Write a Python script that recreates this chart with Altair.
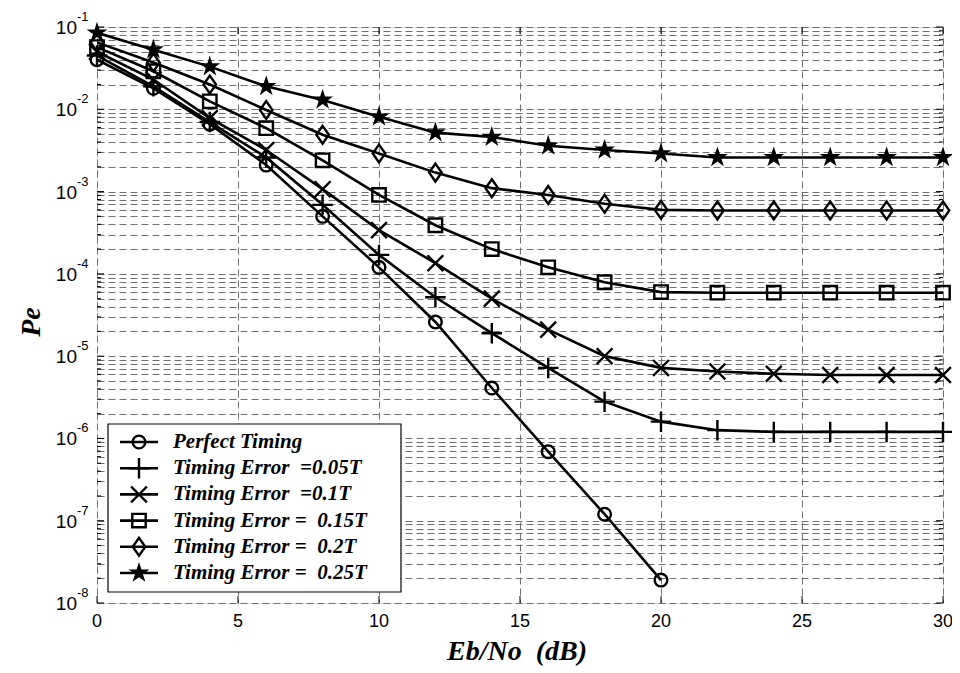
import altair as alt
import pandas as pd
import math

# ---------------- data ----------------
ebno = [0, 2, 4, 6, 8, 10, 12, 14, 16, 18, 20, 22, 24, 26, 28, 30]

perfect = [0.04, 0.018, 0.0066, 0.0021, 5.0e-4, 1.2e-4, 2.6e-5, 4.1e-6, 6.9e-7, 1.2e-7, 1.9e-8]
err_005 = [0.045, 0.019, 0.007, 0.0026, 6.9e-4, 1.7e-4, 5.2e-5, 1.9e-5, 7.2e-6, 2.8e-6,
           1.6e-6, 1.26e-6, 1.2e-6, 1.2e-6, 1.2e-6, 1.2e-6]
err_010 = [0.05, 0.023, 0.0078, 3.2e-3, 1.07e-3, 3.4e-4, 1.35e-4, 5.0e-5, 2.1e-5, 1.0e-5,
           7.2e-6, 6.5e-6, 6.1e-6, 5.9e-6, 5.9e-6, 5.9e-6]
err_015 = [0.057, 0.029, 0.0125, 5.9e-3, 2.4e-3, 9.1e-4, 3.9e-4, 2.0e-4, 1.2e-4, 7.9e-5,
           6.0e-5, 5.9e-5, 5.9e-5, 5.9e-5, 5.9e-5, 5.9e-5]
err_020 = [0.065, 0.037, 0.02, 0.0098, 4.9e-3, 2.9e-3, 1.7e-3, 1.1e-3, 9.1e-4, 7.1e-4,
           6.0e-4, 5.9e-4, 5.9e-4, 5.9e-4, 5.9e-4, 5.9e-4]
err_025 = [0.085, 0.053, 0.033, 0.019, 0.013, 8.1e-3, 5.2e-3, 4.6e-3, 3.6e-3, 3.2e-3,
           2.9e-3, 2.6e-3, 2.6e-3, 2.6e-3, 2.6e-3, 2.6e-3]

NB = "\u00a0"
series_names = ["Perfect Timing",
                "Timing Error" + NB + " =0.05T",
                "Timing Error" + NB + " =0.1T",
                "Timing Error =" + NB + " 0.15T",
                "Timing Error =" + NB + " 0.2T",
                "Timing Error =" + NB + " 0.25T"]
series_values = [perfect, err_005, err_010, err_015, err_020, err_025]

x_ticks = [0, 5, 10, 15, 20, 25, 30]
decades = [-8, -7, -6, -5, -4, -3, -2, -1]

# ---------------- styles ----------------
PLUS = "M-1,0L1,0M0,-1L0,1"
XMARK = "M-1,-1L1,1M-1,1L1,-1"
DIAMOND = "M0,-1L0.7,0L0,1L-0.7,0Z"
STAR = ("M0,-1L0.2245,-0.309L0.951,-0.309L0.363,0.118L0.588,0.809L0,0.382"
        "L-0.588,0.809L-0.363,0.118L-0.951,-0.309L-0.2245,-0.309Z")
marker_styles = [
    dict(shape="circle", size=160, filled=False),
    dict(shape=PLUS, size=420, filled=False),
    dict(shape=XMARK, size=250, filled=False),
    dict(shape="square", size=180, filled=False),
    dict(shape=DIAMOND, size=320, filled=False),
    dict(shape=STAR, size=480, filled=True),
]

W, H = 846, 576
SERIF = "Liberation Serif"
SANS = "Liberation Sans"
GRID = "#707070"

rows = []
for name, vals in zip(series_names, series_values):
    for x, v in zip(ebno, vals):
        rows.append({"eb": x, "pe": v, "series": name})
df = pd.DataFrame(rows)

grid_vals = []
for k in decades[:-1]:
    for m in range(1, 10):
        grid_vals.append(m * 10.0 ** k)
grid_vals.append(0.1)

xscale = alt.Scale(domain=[0, 30], nice=False, zero=False)
yscale = alt.Scale(type="log", domain=[1e-8, 1e-1], nice=False)
xaxis = alt.Axis(values=x_ticks, grid=True, gridDash=[7, 4], gridColor=GRID,
                 gridWidth=1, labels=False, ticks=False, domain=False, title=None)
yaxis = alt.Axis(values=grid_vals, grid=True, gridDash=[7, 4], gridColor=GRID,
                 gridWidth=1, labels=False, ticks=False, domain=False, title=None)
X = alt.X("eb:Q", scale=xscale, axis=xaxis)
Y = alt.Y("pe:Q", scale=yscale, axis=yaxis)

layers = []
lines = alt.Chart(df).mark_line(color="black", strokeWidth=2.6, clip=True).encode(
    x=X, y=Y, detail="series:N")
layers.append(lines)

for name, st in zip(series_names, marker_styles):
    sub = df[df["series"] == name]
    pts = alt.Chart(sub).mark_point(
        shape=st["shape"], size=st["size"], filled=st["filled"],
        color="black", strokeWidth=2.4, opacity=1).encode(x=X, y=Y)
    layers.append(pts)

# inner ticks (MATLAB style)
xt_df = pd.DataFrame({"eb": x_ticks})
layers.append(alt.Chart(xt_df).mark_rule(color="black", strokeWidth=1).encode(
    x=X, y=alt.value(H), y2=alt.value(H - 7)))
layers.append(alt.Chart(xt_df).mark_rule(color="black", strokeWidth=1).encode(
    x=X, y=alt.value(0), y2=alt.value(7)))
maj_df = pd.DataFrame({"pe": [10.0 ** k for k in decades]})
min_df = pd.DataFrame({"pe": [v for v in grid_vals
                              if abs(math.log10(v) - round(math.log10(v))) > 1e-9]})
for d, L in ((maj_df, 7), (min_df, 4)):
    layers.append(alt.Chart(d).mark_rule(color="black", strokeWidth=1).encode(
        y=Y, x=alt.value(0), x2=alt.value(L)))
    layers.append(alt.Chart(d).mark_rule(color="black", strokeWidth=1).encode(
        y=Y, x=alt.value(W), x2=alt.value(W - L)))

# y tick labels 10^k
ylab_df = pd.DataFrame({"pe": [10.0 ** k for k in decades],
                        "base": ["10"] * len(decades),
                        "exp": [str(k) for k in decades]})
layers.append(alt.Chart(ylab_df).mark_text(
    align="right", baseline="middle", font=SANS, fontSize=19, color="black", dy=1).encode(
    y=Y, x=alt.value(-20), text="base:N"))
layers.append(alt.Chart(ylab_df).mark_text(
    align="left", baseline="middle", font=SANS, fontSize=13, color="black", dy=-10).encode(
    y=Y, x=alt.value(-20), text="exp:N"))

# x tick labels
xlab_df = pd.DataFrame({"eb": x_ticks, "lab": [str(v) for v in x_ticks]})
layers.append(alt.Chart(xlab_df).mark_text(
    align="center", baseline="middle", font=SANS, fontSize=18, color="black").encode(
    x=X, y=alt.value(H + 19), text="lab:N"))

# axis titles
layers.append(alt.Chart(pd.DataFrame({"t": ["Eb/No" + NB + NB + "(dB)"]})).mark_text(
    align="center", baseline="middle", font=SERIF, fontSize=28, fontWeight="bold",
    fontStyle="italic", color="black").encode(
    x=alt.value(420), y=alt.value(H + 49), text="t:N"))
layers.append(alt.Chart(pd.DataFrame({"t": ["Pe"]})).mark_text(
    align="center", baseline="middle", font=SERIF, fontSize=28, fontWeight="bold",
    fontStyle="italic", color="black", angle=270).encode(
    x=alt.value(-65), y=alt.value(295), text="t:N"))

# legend box
LX0, LY0, LX1, LY1 = 11, 397, 304, 565
layers.append(alt.Chart(pd.DataFrame({"a": [0]})).mark_rect(
    fill="white", stroke="black", strokeWidth=1.2).encode(
    x=alt.value(LX0), x2=alt.value(LX1), y=alt.value(LY0), y2=alt.value(LY1)))
leg = pd.DataFrame({"i": list(range(6)), "name": series_names,
                    "ly": [415 + i * 26.2 for i in range(6)]})
layers.append(alt.Chart(leg).mark_rule(color="black", strokeWidth=2.6).encode(
    x=alt.value(23), x2=alt.value(61), y=alt.Y("ly:Q", scale=None, axis=None)))
for i, st in enumerate(marker_styles):
    layers.append(alt.Chart(leg[leg["i"] == i]).mark_point(
        shape=st["shape"], size=st["size"], filled=st["filled"],
        color="black", strokeWidth=2.4, opacity=1).encode(
        x=alt.value(42), y=alt.Y("ly:Q", scale=None, axis=None)))
layers.append(alt.Chart(leg).mark_text(
    align="left", baseline="middle", font=SERIF, fontSize=21, fontWeight="bold",
    fontStyle="italic", color="black").encode(
    x=alt.value(76), y=alt.Y("ly:Q", scale=None, axis=None), text="name:N"))

chart = alt.layer(*layers).properties(
    width=W, height=H,
    autosize=alt.AutoSizeParams(type="none"),
    padding={"left": 89, "top": 19, "right": 9, "bottom": 64},
).configure_view(stroke="black", strokeWidth=1.5).configure(background="white")

chart.save("out.html", embed_options={"renderer": "svg", "actions": False})
